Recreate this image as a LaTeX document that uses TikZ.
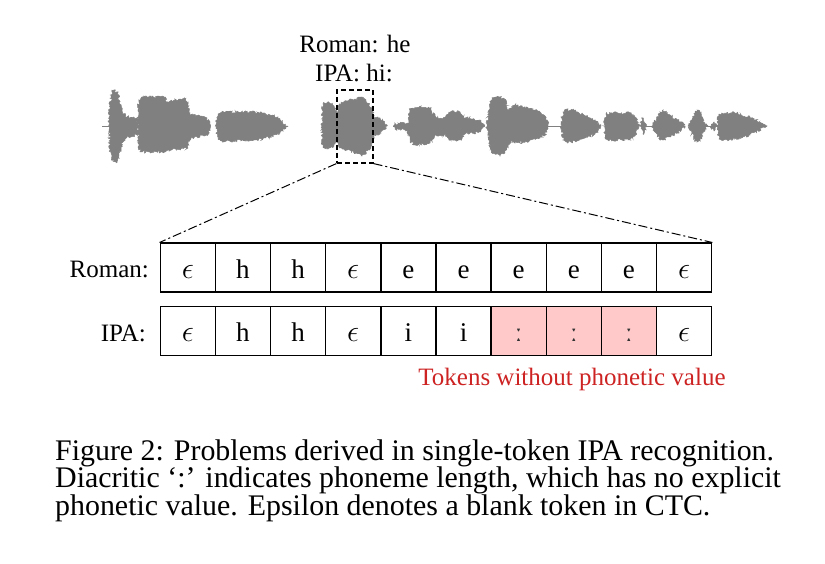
\documentclass[tikz,border=0pt]{standalone}
\usepackage{graphicx}
\usepackage{fontspec}
\setmainfont{Liberation Serif}
\usetikzlibrary{decorations.pathmorphing}
\definecolor{wave}{RGB}{128,128,128}
\definecolor{tokred}{RGB}{205,35,35}
\definecolor{tokpink}{RGB}{255,201,201}
\newcommand{\bigeps}{\scalebox{1.22}{$\epsilon$}}
\begin{document}
\begin{tikzpicture}[x=1pt,y=-1pt,
  wavefill/.style={fill=wave, draw=wave, line width=0.5pt, decorate,
    decoration={random steps, segment length=1pt, amplitude=1.4pt}},
  waveline/.style={draw=wave, line width=1.6pt},
  cell/.style={draw=black, line width=1.4pt, minimum width=55.15pt, minimum height=49pt,
    inner sep=0pt, anchor=north west, text height=21pt, text depth=0pt,
    font=\fontsize{27}{30}\selectfont},
  pinkcell/.style={cell, fill=tokpink},
  lbl/.style={font=\fontsize{25}{30}\selectfont, inner sep=0pt},
  captext/.style={font=\fontsize{29.9}{34}\selectfont, inner sep=0pt, anchor=base west},
  zoomline/.style={line width=1pt, dash pattern=on 9pt off 3pt on 2pt off 3pt},
  zoombox/.style={draw=black, line width=1.2pt, dash pattern=on 5pt off 3pt,
    minimum width=36pt, minimum height=73pt, inner sep=0pt},
]
\useasboundingbox (0,0) rectangle (825,564);
\pgfmathsetseed{7}

% ---------- waveform ----------
\draw[waveline] (102,126.5) -- (111,126.5);
\draw[waveline] (545,126.5) -- (563,126.5);
\draw[waveline] (645,126.5) -- (656,126.5);
\draw[waveline] (706,126.5) -- (718,126.5);
\draw[waveline] (393,126.5) -- (410,126.5);
\fill[wavefill] (109,126) -- (110,105) -- (112,92) -- (114,90) -- (117,92) -- (119,100) -- (122,108) -- (125,116) -- (137,118)
  -- (137,135) -- (125,137) -- (122,145) -- (119,155) -- (116,163) -- (113,160) -- (110,150) -- cycle;
\fill[wavefill] (138,127) -- (139,100) -- (142,97) -- (165,97) -- (168,103) -- (175,100) -- (185,99) -- (188,104) -- (190,115) -- (200,116) -- (207,118) -- (210,124)
  -- (210,130) -- (207,135) -- (200,136) -- (190,138) -- (188,148) -- (175,149) -- (168,150) -- (165,152) -- (142,152) -- (139,150) -- cycle;
\fill[wavefill] (216,126) -- (218,114) -- (222,112) -- (255,112) -- (270,115) -- (280,119) -- (287,126)
  -- (280,133) -- (270,137) -- (255,140) -- (222,141) -- (218,139) -- cycle;
\fill[wavefill] (322,126) -- (323,104) -- (328,102) -- (334,106) -- (337,112) -- (340,104) -- (347,101) -- (355,99) -- (362,97) -- (366,100) -- (372,110) -- (374,117) -- (380,118) -- (387,126)
  -- (380,134) -- (374,135) -- (372,145) -- (366,152) -- (362,156) -- (355,153) -- (347,150) -- (340,148) -- (337,142) -- (334,146) -- (328,149) -- (323,148) -- cycle;
\fill[wavefill] (395,124) -- (408,123) -- (410,110) -- (415,107) -- (430,108) -- (435,117) -- (446,118) -- (449,112) -- (460,112) -- (465,118) -- (480,120) -- (484,126)
  -- (480,132) -- (465,134) -- (460,140) -- (449,140) -- (446,135) -- (435,135) -- (430,143) -- (415,145) -- (410,142) -- (408,130) -- (395,129) -- cycle;
\fill[wavefill] (487,126) -- (489,110) -- (492,98) -- (500,97) -- (505,100) -- (508,110) -- (512,108) -- (515,105) -- (525,108) -- (540,112) -- (547,120) -- (548,126)
  -- (547,132) -- (540,138) -- (525,142) -- (515,143) -- (512,140) -- (508,145) -- (505,152) -- (500,156) -- (492,153) -- (489,140) -- cycle;
\fill[wavefill] (561,126) -- (563,112) -- (567,110) -- (575,111) -- (585,116) -- (595,120) -- (601,126)
  -- (595,134) -- (585,138) -- (575,141) -- (567,142) -- (563,140) -- cycle;
\fill[wavefill] (604,126) -- (606,114) -- (612,113) -- (630,113) -- (635,117) -- (639,126)
  -- (635,135) -- (630,140) -- (612,140) -- (606,139) -- cycle;
\fill[wavefill] (640,126) -- (643,118) -- (647,126) -- (643,134) -- cycle;
\fill[wavefill] (652,126) -- (654,122) -- (657,120) -- (660,112) -- (663,110) -- (670,115) -- (680,122) -- (685,126)
  -- (680,131) -- (670,137) -- (663,140) -- (660,140) -- (657,134) -- (654,131) -- cycle;
\fill[wavefill] (688,126) -- (692,120) -- (695,112) -- (697,110) -- (700,112) -- (703,120) -- (708,126)
  -- (703,133) -- (700,140) -- (697,142) -- (695,140) -- (692,133) -- cycle;
\fill[wavefill] (711,126) -- (714,122) -- (717,126) -- (714,131) -- cycle;
\fill[wavefill] (717,126) -- (719,114) -- (725,113) -- (735,113) -- (750,117) -- (767,126)
  -- (750,135) -- (735,139) -- (725,140) -- (719,139) -- cycle;

% ---------- top labels and zoom box ----------
\node[lbl, anchor=base] (romanhe) at (355,53) {Roman: he};
\node[lbl, anchor=base] (ipahi) at (354,82) {IPA: hi:};
\node[zoombox] (zbox) at (355,126.5) {};

% ---------- token rows ----------
\foreach \t [count=\i] in {\bigeps,h,h,\bigeps,e,e,e,e,e,\bigeps}
  \node[cell] (r\i) at ({159.5+(\i-1)*55.15},242.5) {\t};
\foreach \t [count=\i] in {\bigeps,h,h,\bigeps,i,i}
  \node[cell] (p\i) at ({159.5+(\i-1)*55.15},306) {\t};
\foreach \i in {7,8,9}
  \node[pinkcell] (p\i) at ({159.5+(\i-1)*55.15},306) {\textcolor{black!80}{ː}};
\node[cell] (p10) at ({159.5+9*55.15},306) {\bigeps};

\node[lbl, anchor=base east] (romanlbl) at (149,277.5) {Roman:};
\node[lbl, anchor=base east] (ipalbl) at (146,341) {IPA:};

\draw[zoomline] (zbox.south west) -- (r1.north west);
\draw[zoomline] (zbox.south east) -- (r10.north east);

\node[lbl, anchor=base, text=tokred] (note) at (572,385) {Tokens without phonetic value};

% ---------- caption ----------
\node[captext] (cap1) at (55,460) {Figure 2: Problems derived in single-token IPA recognition.};
\node[captext] (cap2) at (55,487.5) {Diacritic ‘:’ indicates phoneme length, which has no explicit};
\node[captext] (cap3) at (55,515) {phonetic value. Epsilon denotes a blank token in CTC.};
\end{tikzpicture}
\end{document}
